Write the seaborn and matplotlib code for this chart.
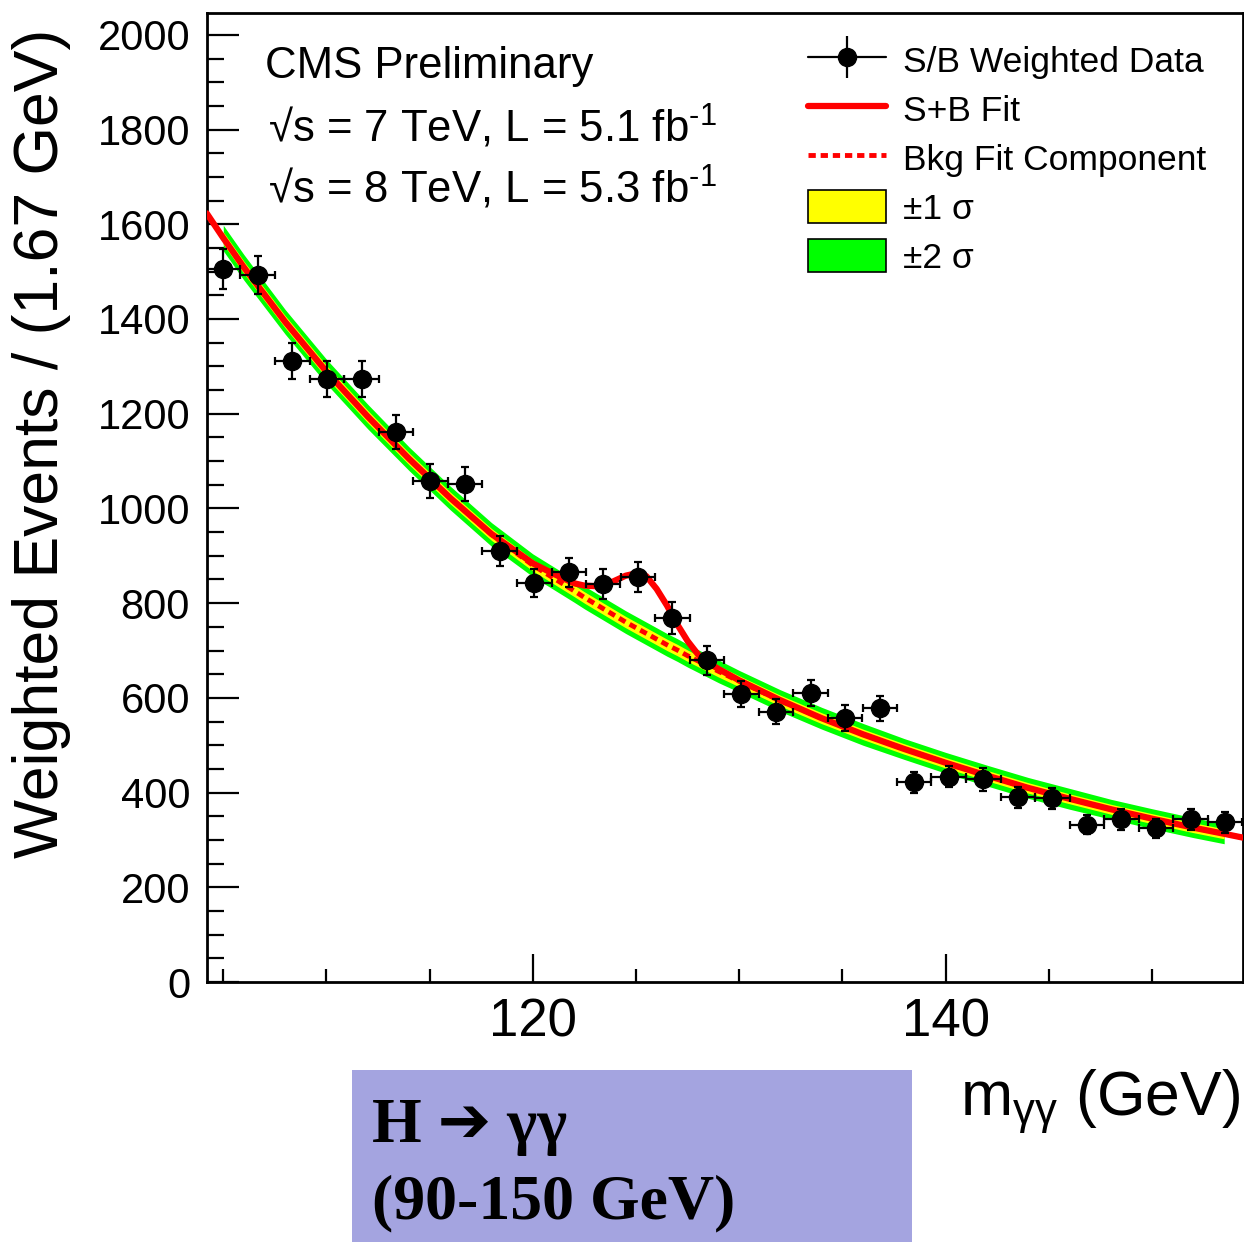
import matplotlib
matplotlib.use("Agg")
import matplotlib.pyplot as plt
import numpy as np
import seaborn as sns
from matplotlib.lines import Line2D
from matplotlib.patches import Patch, Rectangle
from matplotlib.ticker import MultipleLocator

# S/B weighted data
mass = [105.00, 106.67, 108.35, 110.02, 111.70, 113.37, 115.04, 116.72, 118.39, 120.07,
        121.74, 123.41, 125.09, 126.76, 128.44, 130.11, 131.78, 133.46, 135.13, 136.81,
        138.48, 140.15, 141.83, 143.50, 145.18, 146.85, 148.52, 150.20, 151.87, 153.55]
events = [1505, 1493, 1311, 1273, 1274, 1161, 1057, 1051, 910, 843,
          865, 841, 855, 768, 679, 608, 571, 610, 558, 578,
          422, 434, 428, 390, 388, 332, 344, 325, 344, 337]
events_err = [42, 41, 38, 38, 38, 36, 36, 36, 31, 29,
              31, 32, 32, 34, 30, 28, 27, 27, 27, 27,
              22, 23, 24, 22, 22, 20, 22, 20, 22, 22]
bin_width = 1.67

# fit curves
fit_mass = [104.2, 105.0, 106, 108, 110, 112, 114, 116, 118, 120,
            121, 122, 122.5, 123, 123.5, 124, 124.5, 125, 125.5, 126,
            126.5, 127, 127.5, 128, 128.5, 129, 130, 132, 134, 136,
            138, 140, 142, 144, 146, 148, 150, 152, 153.5, 154.4]
bkg_fit = [1623, 1571, 1509, 1394, 1289, 1194, 1105, 1022, 945, 880,
           853, 826, 812, 799, 786, 773, 760, 748, 736, 724,
           712, 701, 689, 678, 667, 656, 635, 594, 557, 523,
           492, 463, 436, 410, 387, 365, 345, 326, 313, 305]
sb_fit = [1623, 1571, 1509, 1394, 1289, 1194, 1105, 1022, 946, 884,
          862, 842, 837, 836, 838, 848, 858, 863, 857, 830,
          795, 755, 720, 692, 674, 661, 637, 595, 557, 523,
          492, 463, 436, 410, 387, 365, 345, 326, 313, 305]
sigma1 = [13, 13, 13, 13, 13, 13, 12.5, 12.5, 12.5, 12,
          12, 12, 12, 12, 12, 12, 12, 12, 12, 12,
          12, 12, 12, 12, 12, 12, 11.5, 11.5, 11.5, 11,
          11, 11, 11, 11, 10.5, 10.5, 10.5, 10.5, 10.5, 10.5]
sigma2 = [27, 27, 27, 26, 26, 26, 25, 25, 25, 24,
          24, 24, 24, 24, 24, 24, 24, 24, 24, 24,
          24, 24, 24, 24, 24, 24, 23, 23, 23, 23,
          22, 22, 22, 22, 22, 21, 21, 21, 21, 21]

sns.set_style("ticks")
plt.rcParams["font.family"] = ["Liberation Sans", "DejaVu Sans"]
plt.rcParams["mathtext.fontset"] = "custom"
plt.rcParams["mathtext.rm"] = "Liberation Sans"
plt.rcParams["mathtext.it"] = "Liberation Sans:italic"
plt.rcParams["mathtext.bf"] = "Liberation Sans:bold"
plt.rcParams.update({"text.color": "black", "axes.labelcolor": "black",
                     "xtick.color": "black", "ytick.color": "black",
                     "axes.edgecolor": "black"})

fig = plt.figure(figsize=(12.44, 12.42), dpi=100)
ax = fig.add_axes([0.1662, 0.2093, 0.8328, 0.7802])

fx = np.array(fit_mass)
bk = np.array(bkg_fit)
s1 = np.array(sigma1)
s2 = np.array(sigma2)
band = (fx >= mass[0]) & (fx <= mass[-1])

ax.fill_between(fx[band], (bk - s2)[band], (bk + s2)[band], color="#00ff00", lw=0, zorder=1)
ax.fill_between(fx[band], (bk - s1)[band], (bk + s1)[band], color="#ffff00", lw=0, zorder=2)

sns.lineplot(x=fit_mass, y=bkg_fit, ax=ax, color="red", lw=3.5,
             linestyle=(0, (1.5, 1.0)), errorbar=None, zorder=3)
sns.lineplot(x=fit_mass, y=sb_fit, ax=ax, color="red", lw=4.5, errorbar=None, zorder=4)

ax.errorbar(mass, events, xerr=bin_width / 2, yerr=events_err, fmt="o",
            color="black", ms=13, elinewidth=1.6, capsize=3, capthick=1.6, zorder=5)

ax.set_xlim(104.2, 154.4)
ax.set_ylim(0, 2046)
ax.set_xlabel("")
ax.set_ylabel("")
ax.xaxis.set_major_locator(MultipleLocator(20))
ax.xaxis.set_minor_locator(MultipleLocator(5))
ax.yaxis.set_major_locator(MultipleLocator(200))
ax.yaxis.set_minor_locator(MultipleLocator(50))
ax.tick_params(which="both", direction="in", top=False, right=False, width=1.6,
               color="black")
ax.tick_params(axis="y", which="major", length=23, pad=12, labelsize=30)
ax.tick_params(axis="y", which="minor", length=12)
ax.tick_params(axis="x", which="major", length=20, pad=11, labelsize=38)
ax.tick_params(axis="x", which="minor", length=9.5)
for sp in ax.spines.values():
    sp.set_linewidth(2)
    sp.set_color("black")

data_handle = (Line2D([], [], color="black", lw=1.6, marker="o", ms=13),
               Line2D([], [], color="black", ls="none", marker="|", ms=30, mew=1.6))
handles = [
    data_handle,
    Line2D([], [], color="red", lw=4.5),
    Line2D([], [], color="red", lw=3.5, linestyle=(0, (1.5, 1.0))),
    Patch(facecolor="#ffff00", edgecolor="black", lw=1.2),
    Patch(facecolor="#00ff00", edgecolor="black", lw=1.2),
]
labels = ["S/B Weighted Data", "S+B Fit", "Bkg Fit Component", "±1 σ", "±2 σ"]
ax.legend(handles, labels, loc="upper left", bbox_to_anchor=(808 / 1244, 1 - 43 / 1242),
          bbox_transform=fig.transFigure, frameon=False, fontsize=25.5,
          handlelength=2.2, handleheight=1.08, handletextpad=0.48,
          labelspacing=0.37, borderpad=0, borderaxespad=0)

fig.text(265 / 1244, 1 - 78 / 1242, "CMS Preliminary", fontsize=31.5, va="baseline")
fig.text(268 / 1244, 1 - 142 / 1242, r"√s = 7 TeV, L = 5.1 fb$^{\text{-1}}$",
         fontsize=31.5, va="baseline")
fig.text(268 / 1244, 1 - 203 / 1242, r"√s = 8 TeV, L = 5.3 fb$^{\text{-1}}$",
         fontsize=31.5, va="baseline")

fig.text(42 / 1244, 1 - 858 / 1242, "Weighted Events / (1.67 GeV)", rotation=90,
         ha="center", va="bottom", fontsize=45)
fig.text(1240 / 1244, 1 - 1115 / 1242, r"m$_{\mathrm{\gamma\gamma}}$ (GeV)", ha="right",
         va="baseline", fontsize=45)

fig.patches.append(Rectangle((352 / 1244, 0), (912 - 352) / 1244, (1242 - 1070) / 1242,
                             transform=fig.transFigure, facecolor="#a4a4e0",
                             edgecolor="none", zorder=0))
serif = ["Liberation Serif", "DejaVu Sans"]
fig.text(372 / 1244, 1 - 1142 / 1242, "H ➔ γγ", family=serif, weight="bold",
         fontsize=46, va="baseline")
fig.text(372 / 1244, 1 - 1218 / 1242, "(90-150 GeV)", family=serif, weight="bold",
         fontsize=46, va="baseline")

fig.savefig("out.png", dpi=100)
